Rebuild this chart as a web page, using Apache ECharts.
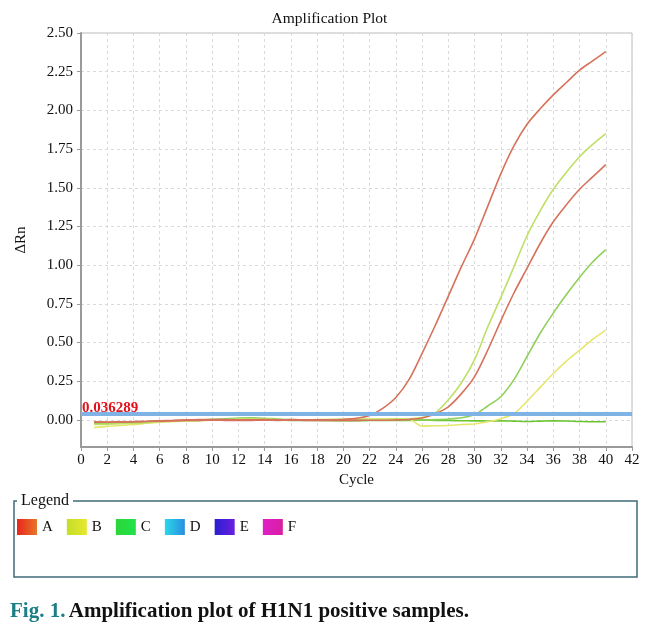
<!DOCTYPE html>
<html lang="en">
<head>
    <meta charset="UTF-8">
    <title>Amplification Plot</title>
    <script src="https://cdn.jsdelivr.net/npm/echarts@6/dist/echarts.min.js"></script>
    <style>
        html, body {
            margin: 0;
            padding: 0;
            background: #fff;
        }

        #main {
            width: 659px;
            height: 632px;
        }
    </style>
</head>
<body>
<div id="main"></div>
<script>
    var cycles = [1, 2, 3, 4, 5, 6, 7, 8, 9, 10, 11, 12, 13, 14, 15, 16, 17, 18, 19, 20,
        21, 22, 23, 24, 25, 26, 27, 28, 29, 30, 31, 32, 33, 34, 35, 36, 37, 38, 39, 40];

    // delta Rn per cycle
    var sampleA1 = [-0.012, -0.013, -0.012, -0.011, -0.009, -0.006, -0.003, 0.000, 0.002, 0.003,
        0.002, 0.000, 0.001, 0.002, 0.000, 0.002, 0.001, 0.000, 0.000, 0.003,
        0.010, 0.028, 0.075, 0.145, 0.26, 0.43, 0.61, 0.80, 0.99, 1.17,
        1.38, 1.59, 1.77, 1.91, 2.01, 2.10, 2.18, 2.26, 2.32, 2.38];
    var sampleA2 = [-0.015, -0.015, -0.014, -0.012, -0.010, -0.008, -0.006, -0.004, -0.003, -0.002,
        -0.003, -0.004, -0.003, -0.002, -0.003, -0.002, -0.003, -0.004, -0.004, -0.003,
        -0.003, -0.002, -0.002, 0.000, 0.003, 0.012, 0.040, 0.085, 0.17, 0.28,
        0.45, 0.64, 0.82, 0.98, 1.14, 1.28, 1.39, 1.49, 1.57, 1.65];
    var sampleB1 = [-0.030, -0.028, -0.025, -0.022, -0.018, -0.012, -0.008, -0.005, -0.003, -0.002,
        0.000, 0.005, 0.008, 0.006, 0.002, 0.000, 0.000, 0.002, 0.003, 0.004,
        0.004, 0.003, 0.004, 0.005, 0.008, 0.015, 0.045, 0.13, 0.24, 0.39,
        0.60, 0.79, 0.99, 1.19, 1.35, 1.49, 1.60, 1.70, 1.78, 1.85];
    var sampleB2 = [-0.050, -0.042, -0.036, -0.030, -0.022, -0.015, -0.010, -0.006, -0.004, -0.002,
        0.000, 0.002, 0.003, 0.002, 0.000, -0.002, -0.001, 0.000, 0.002, 0.004,
        0.005, 0.006, 0.006, 0.007, 0.006, -0.040, -0.038, -0.036, -0.030, -0.026,
        -0.012, 0.008, 0.040, 0.12, 0.21, 0.30, 0.38, 0.45, 0.52, 0.58];
    var sampleC1 = [-0.020, -0.020, -0.018, -0.016, -0.012, -0.008, -0.005, -0.002, 0.000, 0.004,
        0.008, 0.012, 0.013, 0.011, 0.006, 0.002, 0.000, -0.002, -0.003, -0.003,
        -0.003, -0.002, -0.002, -0.001, 0.000, 0.000, 0.002, 0.006, 0.014, 0.035,
        0.09, 0.15, 0.26, 0.41, 0.56, 0.69, 0.81, 0.92, 1.02, 1.10];
    var sampleC2 = [-0.022, -0.020, -0.018, -0.015, -0.012, -0.009, -0.007, -0.005, -0.003, -0.002,
        -0.001, 0.000, 0.000, -0.001, -0.002, -0.003, -0.004, -0.004, -0.004, -0.005,
        -0.005, -0.004, -0.004, -0.003, -0.003, -0.002, -0.003, -0.004, -0.005, -0.006,
        -0.007, -0.006, -0.008, -0.010, -0.008, -0.006, -0.007, -0.010, -0.012, -0.012];

    var threshold = [0.036289];
    var legendNames = ['A', 'B', 'C', 'D', 'E', 'F'];
    var yLabels = [0, 0.25, 0.5, 0.75, 1, 1.25, 1.5, 1.75, 2, 2.25, 2.5];

    var serif = '"Liberation Serif", "DejaVu Serif", serif';

    function pairs(ys) {
        return cycles.map(function (c, i) {
            return [c, ys[i]];
        });
    }

    function grad(c1, c2) {
        return new echarts.graphic.LinearGradient(0, 0, 1, 0, [
            {offset: 0, color: c1},
            {offset: 1, color: c2}
        ]);
    }

    function curve(name, color, ys) {
        return {
            name: name,
            type: 'line',
            data: pairs(ys),
            showSymbol: false,
            symbol: 'none',
            smooth: 0.3,
            silent: true,
            lineStyle: {color: color, width: 1.6},
            itemStyle: {color: color}
        };
    }

    function isLabel(v) {
        return yLabels.some(function (t) {
            return Math.abs(t - v) < 1e-6;
        });
    }

    var flat = curve('C', '#6cc430', sampleC2);
    flat.markLine = {
        silent: true,
        symbol: 'none',
        lineStyle: {color: '#7fb3e6', width: 4, type: 'solid'},
        label: {
            position: 'insideStartTop',
            formatter: String(threshold[0]),
            color: '#e3121b',
            fontWeight: 'bold',
            fontSize: 15,
            fontFamily: serif,
            distance: [1, -2]
        },
        data: [{yAxis: threshold[0]}]
    };

    var myChart = echarts.init(document.getElementById('main'), null, {renderer: 'canvas'});

    myChart.setOption({
        backgroundColor: '#fff',
        animation: false,
        title: {
            text: 'Amplification Plot',
            left: 'center',
            top: 6,
            textStyle: {fontFamily: serif, fontSize: 15.5, fontWeight: 'normal', color: '#111'}
        },
        grid: {
            left: 81,
            right: 27,
            top: 33,
            bottom: 185,
            show: true,
            borderColor: '#bdbdbd',
            borderWidth: 1
        },
        legend: {
            data: [
                {name: 'A', itemStyle: {color: grad('#e8251c', '#e8762a')}},
                {name: 'B', itemStyle: {color: grad('#c4de2a', '#e6e82e')}},
                {name: 'C', itemStyle: {color: grad('#2bd63a', '#22e24a')}},
                {name: 'D', itemStyle: {color: grad('#2ad8e8', '#2a8ee0')}},
                {name: 'E', itemStyle: {color: grad('#2a1fd0', '#6a1ee0')}},
                {name: 'F', itemStyle: {color: grad('#e01fc8', '#d81fa0')}}
            ],
            left: 12,
            top: 514,
            padding: 5,
            orient: 'horizontal',
            icon: 'rect',
            itemWidth: 20,
            itemHeight: 16,
            itemGap: 14,
            selectedMode: false,
            textStyle: {fontFamily: serif, fontSize: 15, color: '#111'}
        },
        xAxis: {
            type: 'value',
            min: 0,
            max: 42,
            interval: 2,
            name: 'Cycle',
            nameLocation: 'middle',
            nameGap: 26,
            nameTextStyle: {fontFamily: serif, fontSize: 15, color: '#111'},
            axisLine: {show: true, onZero: false, lineStyle: {color: '#9a9a9a', width: 2}},
            axisTick: {show: true, length: 4, lineStyle: {color: '#9a9a9a'}},
            axisLabel: {fontFamily: serif, fontSize: 15, color: '#111', margin: 6},
            splitLine: {show: true, lineStyle: {color: '#dadada', type: [3, 3], width: 1}}
        },
        yAxis: {
            type: 'value',
            min: -0.175,
            max: 2.5,
            interval: 0.025,
            name: '\u0394Rn',
            nameLocation: 'middle',
            nameGap: 52,
            nameRotate: 90,
            nameTextStyle: {fontFamily: serif, fontSize: 15, color: '#111'},
            axisLine: {show: true, lineStyle: {color: '#9a9a9a', width: 2}},
            axisTick: {show: true, length: 4, customValues: yLabels, lineStyle: {color: '#9a9a9a'}},
            axisLabel: {
                interval: 0,
                fontFamily: serif,
                fontSize: 15,
                color: '#111',
                margin: 8,
                formatter: function (v) {
                    return isLabel(v) ? v.toFixed(2) : '';
                }
            },
            splitLine: {show: true, lineStyle: {color: '#dadada', type: [3, 3], width: 1}}
        },
        graphic: [
            {
                type: 'rect',
                shape: {x: 14, y: 501, width: 623, height: 76},
                style: {fill: 'none', stroke: '#3f6a78', lineWidth: 1.5},
                silent: true
            },
            {
                type: 'text',
                x: 17,
                y: 501,
                style: {
                    text: ' Legend ',
                    verticalAlign: 'middle',
                    fontFamily: serif,
                    fontSize: 16,
                    fill: '#111',
                    backgroundColor: '#fff'
                },
                silent: true
            },
            {
                type: 'text',
                x: 10,
                y: 612,
                style: {
                    text: '{f|Fig. 1.} {t|Amplification plot of H1N1 positive samples.}',
                    verticalAlign: 'middle',
                    rich: {
                        f: {fontFamily: serif, fontSize: 21, fontWeight: 'bold', fill: '#1c7f86', color: '#1c7f86'},
                        t: {fontFamily: serif, fontSize: 21, fontWeight: 'bold', fill: '#111', color: '#111'}
                    }
                },
                silent: true
            }
        ],
        series: [
            flat,
            curve('C', '#8fd05a', sampleC1),
            curve('B', '#e6e66e', sampleB2),
            curve('B', '#bfdf66', sampleB1),
            {name: 'D', type: 'line', data: []},
            {name: 'E', type: 'line', data: []},
            {name: 'F', type: 'line', data: []},
            curve('A', '#d6725c', sampleA2),
            curve('A', '#d6725c', sampleA1)
        ]
    });
</script>
</body>
</html>
